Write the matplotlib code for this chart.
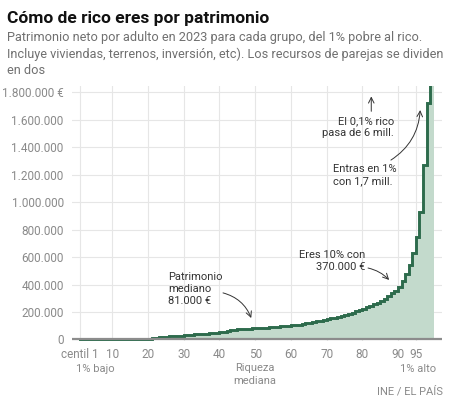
import matplotlib
matplotlib.use("Agg")
import matplotlib.pyplot as plt
import numpy as np

# net wealth per adult, euros, step value for centile i on [i, i+1]
centiles = list(range(1, 100))
wealth_k = [0] * 19 + [
    3, 8, 12, 15, 18, 20, 22, 25, 27, 29,            # 20-29
    31, 33, 35, 37, 39, 41, 43, 45, 47, 49,          # 30-39
    52, 57, 63, 68, 71, 73, 75, 77, 78, 80,          # 40-49
    81, 83, 85, 87, 89, 91, 93, 95, 97, 100,         # 50-59
    103, 106, 109, 113, 117, 121, 126, 131, 136, 141,  # 60-69
    147, 153, 159, 166, 173, 180, 188, 196, 205, 214,  # 70-79
    224, 234, 245, 256, 268, 282, 298, 315, 335, 355,  # 80-89
    380, 425, 480, 540, 630, 745, 930, 1270, 1720, 6200,  # 90-99
]
xticks = [1, 10, 20, 30, 40, 50, 60, 70, 80, 90, 95]
xtick_labels = ["centil 1", "10", "20", "30", "40", "50", "60", "70", "80", "90", "95"]
yticks = [0, 200000, 400000, 600000, 800000, 1000000, 1200000, 1400000, 1600000, 1800000]
ytick_labels = ["0", "200.000", "400.000", "600.000", "800.000", "1.000.000",
                "1.200.000", "1.400.000", "1.600.000", "1.800.000 €"]

LINE = "#2d6b4c"
FILL = "#c3dacc"
GRID = "#e6e6e6"
TICK = "#8a8a8a"
NOTE = "#333333"
FONT = "Roboto"

plt.rcParams["font.family"] = [FONT, "DejaVu Sans"]

W, H = 450, 398
fig = plt.figure(figsize=(W / 100, H / 100), dpi=100)


def fx(px):
    return px / W


def fy(py):
    return 1 - py / H


ax = fig.add_axes([fx(72), fy(341), fx(442) - fx(72), fy(86) - fy(341)])
ax.set_xlim(-1.27, 102.3)
ax.set_ylim(-11000, 1844000)

edges = np.array(centiles + [centiles[-1] + 1])
vals = np.array(wealth_k, dtype=float) * 1000
vals_ext = np.append(vals, vals[-1])
ax.fill_between(edges, vals_ext, step="post", color=FILL, linewidth=0, zorder=2)
ax.step(edges[:-1], vals, where="post", color=LINE, linewidth=2.1, zorder=3,
        solid_joinstyle="miter")

ax.set_xticks(xticks, xtick_labels)
ax.set_yticks(yticks, ytick_labels)
ax.grid(True, color=GRID, linewidth=0.8, zorder=0)
ax.tick_params(length=0, colors=TICK, labelsize=8.5, pad=6)
ax.tick_params(axis="x", pad=5)
for s in ax.spines.values():
    s.set_visible(False)
ax.axhline(0, color="#8c8c8c", linewidth=1.6, zorder=4, xmin=0, xmax=1)

# titles
fig.text(fx(7), fy(18), "Cómo de rico eres por patrimonio", fontsize=12.5,
         fontweight="bold", color="#111111", va="center", ha="left")
subtitle = [
    "Patrimonio neto por adulto en 2023 para cada grupo, del 1% pobre al rico.",
    "Incluye viviendas, terrenos, inversión, etc). Los recursos de parejas se dividen",
    "en dos",
]
for line, py in zip(subtitle, [37, 54, 70]):
    fig.text(fx(7), fy(py), line, fontsize=9.15, color="#707070", va="center", ha="left")

# labels under the axis
fig.text(fx(95), fy(369), "1% bajo", fontsize=8, color=TICK, ha="center", va="center")
fig.text(fx(255), fy(374.5), "Riqueza\nmediana", fontsize=8, color=TICK, ha="center",
         va="center", linespacing=1.3)
fig.text(fx(418), fy(369), "1% alto", fontsize=8, color=TICK, ha="center", va="center")
fig.text(fx(443), fy(391.5), "INE / EL PAÍS", fontsize=8, color=TICK, ha="right", va="center")

# annotations
arrow = dict(arrowstyle="->", color=NOTE, linewidth=0.7, shrinkA=0, shrinkB=0)
ax.text(25.6, 367000, "Patrimonio\nmediano\n81.000 €", fontsize=8, color=NOTE,
        ha="left", va="center", linespacing=1.2)
ax.annotate("", xy=(48.9, 156000), xytext=(41.0, 339000),
            arrowprops=dict(arrow, connectionstyle="arc3,rad=-0.25"))

ax.text(80.8, 571000, "Eres 10% con\n370.000 €", fontsize=8, color=NOTE,
        ha="right", va="center", linespacing=1.2)
ax.annotate("", xy=(87.5, 433000), xytext=(81.6, 520000),
            arrowprops=dict(arrow, connectionstyle="arc3,rad=-0.15"))

ax.text(71.8, 1196000, "Entras en 1%\ncon 1,7 mill.", fontsize=8, color=NOTE,
        ha="left", va="center", linespacing=1.2)
ax.annotate("", xy=(96.2, 1669000), xytext=(88.0, 1305000),
            arrowprops=dict(arrow, connectionstyle="arc3,rad=0.25"))

ax.text(88.9, 1542000, "El 0,1% rico\npasa de 6 mill.", fontsize=8, color=NOTE,
        ha="right", va="center", linespacing=1.2)
ax.annotate("", xy=(82.5, 1768000), xytext=(82.5, 1660000),
            arrowprops=dict(arrow))

fig.savefig("out.png", dpi=100)
